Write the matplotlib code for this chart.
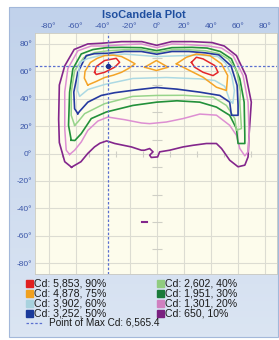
import numpy as np
import matplotlib
matplotlib.use("Agg")
import matplotlib.pyplot as plt
from matplotlib.patches import Rectangle

# iso-candela loops: (horizontal deg, vertical deg)
cd10 = [(-63, -10), (-68, -6), (-72, 8), (-72.5, 25), (-72, 50), (-68, 64), (-61, 76), (-51, 80),
        (-41, 80.5), (-26, 81.7), (-11, 81.7), (0, 79), (11, 81.7), (26, 81.7), (41, 81), (50, 78.5),
        (59, 71.5), (66, 57), (70, 37.5), (68.4, 14.5), (67.6, -2.5), (65.2, -8.5), (60.2, -9.7),
        (54, -4.9), (48, 3.6), (44.2, 7.3), (36.8, 7.3), (26.9, 6), (19.5, 4.8), (9.6, 2.4), (2.2, 1.2),
        (0.7, -2.5), (-4, -2.9), (-5.2, -1.2), (-2.7, 1.2), (-5.2, 3.6), (-9, 2.4), (-11.3, 2.4),
        (-18.7, 4.8), (-31, 7.3), (-37, 9.2), (-42, 7.5), (-46, 4.8), (-51, 0), (-56, -6)]
cd20 = [(-64.4, -0.7), (-66.9, 2.4), (-68, 18), (-68, 45), (-65.7, 62), (-58.3, 75), (-48.4, 78.5),
        (-38.5, 78.5), (-23.7, 79.5), (-11.3, 80), (0, 77.3), (11.3, 80), (23.7, 79.5), (38.5, 78.5),
        (48, 77), (56.5, 71.5), (63.9, 57), (67.6, 37.5), (68.4, 13.3), (67.6, 1.2), (65.2, -1.7),
        (61.5, 3.6), (59, 13.3), (54, 20.6), (44.2, 28), (31.9, 28.8), (19.5, 25.5), (7.2, 23),
        (-5.2, 21.8), (-11.3, 22.3), (-23.7, 24.7), (-36.1, 26.6), (-43.5, 23.7), (-50.9, 16.9),
        (-55.8, 8.4), (-60.7, 2.4)]
cd30 = [(-63.2, 9.7), (-65.2, 20.6), (-64.4, 44.8), (-62, 61.8), (-55.8, 72.7), (-47.2, 75.9),
        (-37.3, 77.3), (-26.1, 77.5), (-11.3, 77.3), (0, 75.1), (11.3, 77.3), (26.1, 77.5), (37.3, 77),
        (47, 74.5), (55.3, 69.1), (61.5, 54.5), (64.7, 37.5), (65.2, 13.3), (65.2, 7.3), (60.2, 7.3),
        (59, 18.2), (54, 27.9), (44.2, 33.9), (31.9, 37.5), (15, 38.5), (0, 37.5), (-17.6, 35.1),
        (-37.3, 30.3), (-48.4, 25.5), (-55.8, 14.5), (-60.5, 9.5)]
cd40 = [(-60.7, 20.6), (-63.2, 27.9), (-63.2, 44.8), (-60.7, 60.6), (-54, 70), (-46, 73.7),
        (-36.3, 75), (-23.7, 75.8), (-11.3, 75.8), (0, 73.7), (11.3, 75.8), (23.7, 75.8), (36.3, 75),
        (46, 73), (53, 69), (59, 61), (62, 45), (61.5, 37.5), (62.7, 18.2), (59, 17), (57.8, 25.5),
        (51.6, 35.1), (41.7, 41.2), (20, 42.5), (0, 42.4), (-17.8, 41.7), (-38.5, 36.4), (-53.3, 29.1),
        (-58.5, 22.8)]
cd50 = [(-58.3, 29.1), (-60.7, 32.7), (-61.3, 44.8), (-58.3, 59.3), (-52.1, 71.5), (-46, 72.9),
        (-36.1, 73.2), (-23.7, 74.5), (-11.3, 74.5), (0, 72.5), (11.3, 74.5), (23.7, 74.5), (36.1, 73.5),
        (46, 72), (55, 64), (59.5, 49.7), (60.2, 35.1), (60.2, 27.9), (55.3, 27.9), (54, 37.5),
        (46.7, 42.4), (31.9, 44.8), (15, 47), (0, 48.2), (-15, 46.5), (-31.1, 44.4), (-41, 42.4),
        (-50.9, 37.5), (-57, 30.8)]
cd60 = [(-57, 66.5), (-57.8, 57), (-58.5, 46), (-57, 41.7), (-50.9, 46.7), (-38.5, 50.4), (-17.6, 54.8),
        (7.2, 55.5), (31.9, 54.5), (43, 53.3), (50.4, 49), (54, 39), (56.3, 36.6), (57.5, 46),
        (55.5, 57), (51, 66), (45.2, 70.8), (31.9, 71.9), (0, 70.8), (-23.7, 72.6), (-42.2, 71.5),
        (-51.1, 69.3)]
cd75_left = [(-51, 50), (-53.5, 55), (-53, 60), (-49, 66.5), (-44, 69.5), (-38.5, 71.5), (-32, 71.8),
             (-26, 70.8), (-21, 68.3), (-16, 65.5), (-21, 62), (-26, 59.3), (-32, 57.2), (-38.5, 55.5),
             (-45, 52.5)]
cd75_mid = [(-8.9, 63), (-0.2, 67.9), (8.4, 63), (-0.2, 60.6)]
cd75_right = [(14.6, 65.5), (22, 70.3), (29.4, 72.7), (39.3, 71.5), (47.9, 65.5), (52.5, 57), (51.6, 46),
              (44.2, 48.4), (34.3, 55.7), (24.4, 60.6)]
cd90_left = [(-45.9, 59.3), (-44.7, 63.5), (-38.5, 67.9), (-29.9, 69.5), (-27.4, 66.6), (-31.1, 63),
             (-38.5, 59.3), (-44.7, 57.7)]
cd90_right = [(25.7, 66.6), (29.4, 70.3), (34.3, 69.1), (43, 64.2), (45.4, 59.3), (41.7, 56.9),
              (34.3, 59.3), (28.1, 63)]
stray10 = [(-10.5, -50), (-7.5, -50)]

max_point = (-36, 64.2)
max_cd = "6,565.4"

legend_left = ["Cd: 5,853, 90%", "Cd: 4,878, 75%", "Cd: 3,902, 60%", "Cd: 3,252, 50%"]
legend_right = ["Cd: 2,602, 40%", "Cd: 1,951, 30%", "Cd: 1,301, 20%", "Cd: 650, 10%"]

c90, c75, c60, c50 = "#e4262a", "#f4a326", "#acd9e3", "#25399f"
c40, c30, c20, c10 = "#97d48a", "#22903a", "#dd8fd2", "#83268c"
swatch_left = ["#e02020", "#f0a020", "#a8d2de", "#1a3a9a"]
swatch_right = ["#90cc80", "#1a7a3a", "#d080c0", "#7a2080"]
tick_col = "#3a56a8"
font = ["Liberation Sans", "DejaVu Sans"]

fig = plt.figure(figsize=(2.79, 3.40), dpi=100)
fig.patch.set_facecolor("white")

# frame around everything, pixel coordinates
bg = fig.add_axes([0, 0, 1, 1], zorder=0)
grad = np.linspace(0, 1, 100).reshape(-1, 1)
cmap = matplotlib.colors.LinearSegmentedColormap.from_list("fr", ["#c1d2eb", "#dbe5f3"])
bg.imshow(grad, extent=(9, 278, 337, 7), aspect="auto", cmap=cmap)
bg.add_patch(Rectangle((9, 7), 269, 330, fill=False, ec="#a3b8da", lw=0.8))
bg.set_xlim(0, 279)
bg.set_ylim(340, 0)
bg.axis("off")

bg.text(144, 15.5, "IsoCandela Plot", ha="center", va="center", fontsize=8,
        fontweight="bold", color="#1f4f9f", family=font)

for i, (lab, col) in enumerate(zip(legend_left, swatch_left)):
    y = 283.5 + i * 10
    bg.add_patch(Rectangle((26, y - 3.3), 6.5, 6.5, color=col))
    bg.text(34, y, lab, va="center", fontsize=7.6, color="#1a1a1a", family=font)
for i, (lab, col) in enumerate(zip(legend_right, swatch_right)):
    y = 283.5 + i * 10
    bg.add_patch(Rectangle((157, y - 3.3), 6.5, 6.5, color=col))
    bg.text(165, y, lab, va="center", fontsize=7.6, color="#1a1a1a", family=font)
bg.plot([26, 43], [322.5, 322.5], ls=(0, (2, 1.5)), color="#5a6fd0", lw=0.9)
bg.text(49, 322.5, "Point of Max Cd: " + max_cd, va="center", fontsize=7.2,
        color="#1a1a1a", family=font)

# the plot itself
ax = fig.add_axes([35 / 279, 1 - 274 / 340, 242 / 279, 241 / 340], zorder=1)
ax.set_facecolor("#fdfcec")
ax.set_xlim(-90, 89)
ax.set_ylim(-88, 88)
ticks = list(range(-80, 81, 20))
ax.set_xticks(ticks)
ax.set_yticks(ticks)
ax.set_xticklabels([f"{t}°" for t in ticks])
ax.set_yticklabels([f"{t}°" for t in ticks])
ax.xaxis.tick_top()
ax.tick_params(length=0, pad=2, labelsize=6, labelcolor=tick_col)
for lab in ax.get_xticklabels() + ax.get_yticklabels():
    lab.set_family(font)
ax.grid(color="#dcdcd2", lw=0.8)
ax.set_axisbelow(True)
for s in ax.spines.values():
    s.set_color("#c9c9c0")
    s.set_linewidth(0.6)

odd = [-70, -50, -30, -10, 10, 30, 50, 70]
ax.plot([0] * len(odd), odd, ls="none", marker="_", ms=7, mew=0.8, color="#cfcfc6", zorder=1)
ax.plot(odd, [0] * len(odd), ls="none", marker="|", ms=5, mew=0.8, color="#cfcfc6", zorder=1)

def loop(pts, col, lw=1.1):
    h = [p[0] for p in pts] + [pts[0][0]]
    v = [p[1] for p in pts] + [pts[0][1]]
    ax.plot(h, v, color=col, lw=lw, zorder=3, solid_joinstyle="round")

loop(cd10, c10, 1.2)
loop(cd20, c20)
loop(cd30, c30, 1.2)
loop(cd40, c40)
loop(cd50, c50, 1.2)
loop(cd60, c60)
loop(cd75_left, c75)
loop(cd75_mid, c75)
loop(cd75_right, c75)
loop(cd90_left, c90)
loop(cd90_right, c90)
ax.plot([p[0] for p in stray10], [p[1] for p in stray10], color=c10, lw=1.5, zorder=3)

ax.axhline(max_point[1], ls=(0, (2, 1.5)), color="#5a6fd0", lw=0.9, zorder=4)
ax.axvline(max_point[0], ls=(0, (2, 1.5)), color="#5a6fd0", lw=0.9, zorder=4)
ax.plot(*max_point, "o", ms=2.8, color="#1a2f8f", zorder=5)

fig.savefig("out.png", dpi=100)
